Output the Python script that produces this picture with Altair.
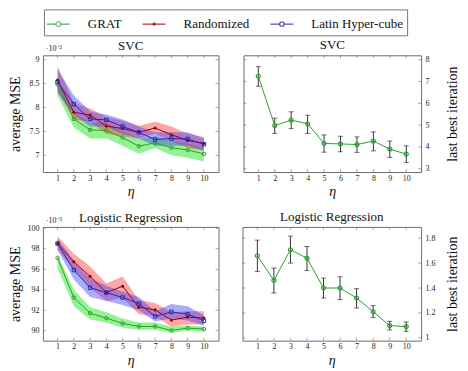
import altair as alt
import pandas as pd

# ---------------- data ----------------
eta = [1, 2, 3, 4, 5, 6, 7, 8, 9, 10]
series_names = ["GRAT", "Randomized", "Latin Hyper-cube"]

# SVC average MSE (x 1e-2)
svc_grat_mean = [8.48, 7.76, 7.53, 7.52, 7.37, 7.19, 7.26, 7.16, 7.11, 7.03]
svc_grat_lo = [8.25, 7.58, 7.35, 7.35, 7.20, 7.03, 7.15, 7.00, 6.95, 6.87]
svc_grat_hi = [8.55, 7.90, 7.68, 7.68, 7.50, 7.35, 7.40, 7.30, 7.25, 7.15]
svc_rand_mean = [8.57, 7.90, 7.84, 7.61, 7.56, 7.48, 7.57, 7.43, 7.31, 7.25]
svc_rand_lo = [8.35, 7.75, 7.70, 7.45, 7.40, 7.35, 7.45, 7.30, 7.15, 7.10]
svc_rand_hi = [8.86, 8.10, 7.98, 7.80, 7.72, 7.62, 7.70, 7.60, 7.45, 7.38]
svc_lhs_mean = [8.53, 8.07, 7.76, 7.74, 7.60, 7.48, 7.33, 7.35, 7.34, 7.23]
svc_lhs_lo = [8.30, 7.85, 7.60, 7.60, 7.45, 7.35, 7.20, 7.20, 7.20, 7.10]
svc_lhs_hi = [8.80, 8.25, 7.92, 7.85, 7.75, 7.60, 7.48, 7.48, 7.48, 7.35]

# Logistic Regression average MSE (x 1e-3)
lr_grat_mean = [97.12, 93.24, 91.71, 91.23, 90.71, 90.42, 90.42, 90.03, 90.26, 90.16]
lr_grat_lo = [96.1, 92.4, 91.1, 90.8, 90.3, 90.1, 90.1, 89.8, 90.0, 89.9]
lr_grat_hi = [97.4, 94.0, 92.3, 91.8, 91.2, 90.8, 90.8, 90.4, 90.5, 90.4]
lr_rand_mean = [98.51, 96.73, 95.31, 93.72, 94.34, 92.30, 92.04, 91.04, 91.33, 91.23]
lr_rand_lo = [97.9, 96.0, 94.2, 92.9, 93.2, 91.6, 91.4, 90.4, 90.6, 90.6]
lr_rand_hi = [99.2, 97.5, 96.3, 94.6, 95.3, 93.0, 92.7, 91.8, 91.9, 91.9]
lr_lhs_mean = [98.51, 95.92, 94.20, 93.72, 93.24, 92.65, 91.39, 91.84, 91.62, 90.97]
lr_lhs_lo = [97.9, 95.0, 93.3, 92.9, 92.5, 92.0, 90.9, 91.2, 91.0, 90.5]
lr_lhs_hi = [99.0, 96.8, 95.1, 94.4, 93.8, 93.3, 91.9, 92.6, 92.4, 91.5]

# last best iteration (GRAT)
svc_iter_mean = [7.24, 4.98, 5.23, 5.06, 4.16, 4.14, 4.11, 4.27, 3.90, 3.67]
svc_iter_lo = [6.78, 4.62, 4.84, 4.62, 3.76, 3.78, 3.75, 3.82, 3.52, 3.29]
svc_iter_hi = [7.68, 5.32, 5.61, 5.45, 4.55, 4.49, 4.46, 4.69, 4.27, 4.05]
lr_iter_mean = [1.659, 1.461, 1.707, 1.640, 1.400, 1.400, 1.320, 1.210, 1.099, 1.091]
lr_iter_lo = [1.533, 1.360, 1.600, 1.541, 1.320, 1.307, 1.240, 1.163, 1.064, 1.053]
lr_iter_hi = [1.784, 1.560, 1.816, 1.733, 1.480, 1.490, 1.395, 1.259, 1.133, 1.128]

svc_mse_ticks = [7, 7.5, 8, 8.5, 9]
lr_mse_ticks = [90, 92, 94, 96, 98, 100]
svc_iter_ticks = [3, 4, 5, 6, 7, 8]
lr_iter_ticks = [1.0, 1.2, 1.4, 1.6, 1.8]

# ---------------- style ----------------
FONT = "Liberation Serif"
line_colors = ["#2f9e2f", "#9e0000", "#2a2aa8"]
fill_colors = ["#00e000", "#ff2a2a", "#3a3aff"]
marker_shapes = ["circle", "circle", "square"]
marker_filled = [False, True, False]
legend_paths = [
    "M-1.15,0H-0.25M0.25,0H1.15M-0.25,0A0.25,0.25 0 1,0 0.25,0A0.25,0.25 0 1,0 -0.25,0",
    "M-1.15,0H1.15M-0.12,0A0.12,0.12 0 1,0 0.12,0A0.12,0.12 0 1,0 -0.12,0",
    "M-1.15,0H-0.2M0.2,0H1.15M-0.2,-0.2H0.2V0.2H-0.2Z",
]
FRAME = "#6e6e6e"
TICKLEN = 3
XDOM = [0.1, 10.9]


def xaxis():
    return alt.Axis(values=eta, title="η", ticks=False, domain=False, grid=False,
                    labelPadding=2, titlePadding=3, titleFontStyle="italic",
                    titleFontSize=14, labelFontSize=8, labelOverlap=False, labelFlush=False)


def xenc():
    return alt.X("eta:Q", scale=alt.Scale(domain=XDOM, nice=False, zero=False), axis=xaxis())


def frame_ticks(W, H, yscale, yaxis, ytick_vals):
    xt = pd.DataFrame({"eta": eta})
    yt = pd.DataFrame({"v": ytick_vals})
    X = xenc()
    Y = alt.Y("v:Q", scale=yscale, axis=yaxis)
    base_x = alt.Chart(xt).mark_rule(color=FRAME, strokeWidth=0.6)
    base_y = alt.Chart(yt).mark_rule(color=FRAME, strokeWidth=0.6)
    return [
        base_x.encode(x=X, y=alt.value(H), y2=alt.value(H - TICKLEN)),
        base_x.encode(x=X, y=alt.value(0), y2=alt.value(TICKLEN)),
        base_y.encode(y=Y, x=alt.value(0), x2=alt.value(TICKLEN)),
        base_y.encode(y=Y, x=alt.value(W), x2=alt.value(W - TICKLEN)),
    ]


def panel_title(t, offset):
    return alt.TitleParams(t, font=FONT, fontSize=13, fontWeight="normal", offset=offset,
                           color="#111", frame="group")


def mse_panel(title, exp_text, means, los, his, ydom, yticks, W, H, with_legend):
    yscale = alt.Scale(domain=ydom, nice=False, zero=False)
    X = xenc()
    yaxis = alt.Axis(values=yticks, format="~r", title="average MSE", ticks=False,
                     domain=False, grid=False, labelPadding=4, titleX=-20,
                     titleFontSize=14, labelFontSize=8, labelOverlap=False, labelFlush=False)
    layers = []
    dfs = []
    for i, name in enumerate(series_names):
        dfs.append(pd.DataFrame({"eta": eta, "series": name, "mean": means[i],
                                 "lo": los[i], "hi": his[i]}))
    for i in range(3):
        layers.append(alt.Chart(dfs[i]).mark_area(color=fill_colors[i], opacity=0.42).encode(
            x=X, y=alt.Y("lo:Q", scale=yscale, axis=yaxis), y2="hi:Q"))
    for i in range(3):
        layers.append(alt.Chart(dfs[i]).mark_line(color=line_colors[i], strokeWidth=1).encode(
            x=X, y=alt.Y("mean:Q", scale=yscale, axis=yaxis)))
        layers.append(alt.Chart(dfs[i]).mark_point(
            shape=marker_shapes[i], filled=marker_filled[i], color=line_colors[i],
            size=10 if marker_filled[i] else 12, strokeWidth=1, opacity=1).encode(
            x=X, y=alt.Y("mean:Q", scale=yscale, axis=yaxis)))
    layers += frame_ticks(W, H, yscale, yaxis, yticks)
    exp_df = pd.DataFrame({"t": [exp_text]})
    layers.append(alt.Chart(exp_df).mark_text(align="left", baseline="bottom", fontSize=8,
                                              font=FONT, color="#222").encode(
        text="t:N", x=alt.value(3), y=alt.value(-2)))
    if with_legend:
        all_df = pd.concat(dfs)
        leg = alt.Legend(title=None, orient="none", legendX=1, legendY=-46,
                         direction="horizontal", symbolSize=400, symbolStrokeWidth=1,
                         symbolOpacity=1, labelFont=FONT, labelFontSize=13,
                         labelColor="#111", strokeColor="#777", padding=4,
                         labelOffset=19, columnPadding=19, symbolFillColor="white")
        layers.append(alt.Chart(all_df).mark_point(opacity=0, filled=False, size=400).encode(
            x=X, y=alt.Y("mean:Q", scale=yscale, axis=yaxis),
            stroke=alt.Stroke("series:N", scale=alt.Scale(domain=series_names, range=line_colors),
                              legend=leg),
            shape=alt.Shape("series:N", scale=alt.Scale(domain=series_names, range=legend_paths),
                            legend=leg)))
    # the exponent label sits above the frame, so pull the title back down over it
    return alt.layer(*layers).properties(width=W, height=H, title=panel_title(title, -8))


def iter_panel(title, mean, lo, hi, ydom, yticks, W, H):
    yscale = alt.Scale(domain=ydom, nice=False, zero=False)
    X = xenc()
    yaxis = alt.Axis(values=yticks, format="~r", title="last best iteration", orient="right",
                     titleAngle=270, titleBaseline="bottom", titleX=38, ticks=False,
                     domain=False, grid=False, labelPadding=4, titleFontSize=14,
                     labelFontSize=8, labelOverlap=False, labelFlush=False)
    df = pd.DataFrame({"eta": eta, "mean": mean, "lo": lo, "hi": hi})
    base = alt.Chart(df)
    Ym = alt.Y("mean:Q", scale=yscale, axis=yaxis)
    layers = [
        base.mark_rule(color="#333", strokeWidth=1).encode(
            x=X, y=alt.Y("lo:Q", scale=yscale, axis=yaxis), y2="hi:Q"),
        base.mark_tick(color="#333", orient="horizontal", size=5, thickness=1).encode(
            x=X, y=alt.Y("lo:Q", scale=yscale, axis=yaxis)),
        base.mark_tick(color="#333", orient="horizontal", size=5, thickness=1).encode(
            x=X, y=alt.Y("hi:Q", scale=yscale, axis=yaxis)),
        base.mark_line(color=line_colors[0], strokeWidth=1).encode(x=X, y=Ym),
        base.mark_point(shape="circle", filled=False, color=line_colors[0], size=16,
                        strokeWidth=1.2, opacity=1).encode(x=X, y=Ym),
    ]
    layers += frame_ticks(W, H, yscale, yaxis, yticks)
    return alt.layer(*layers).properties(width=W, height=H, title=panel_title(title, 3))


tl = mse_panel("SVC", "·10⁻²", [svc_grat_mean, svc_rand_mean, svc_lhs_mean],
               [svc_grat_lo, svc_rand_lo, svc_lhs_lo], [svc_grat_hi, svc_rand_hi, svc_lhs_hi],
               [6.65, 9.09], svc_mse_ticks, 176, 117, True)
tr = iter_panel("SVC", svc_iter_mean, svc_iter_lo, svc_iter_hi, [2.85, 8.2],
                svc_iter_ticks, 178, 117)
bl = mse_panel("Logistic Regression", "·10⁻³", [lr_grat_mean, lr_rand_mean, lr_lhs_mean],
               [lr_grat_lo, lr_rand_lo, lr_lhs_lo], [lr_grat_hi, lr_rand_hi, lr_lhs_hi],
               [89.03, 100.13], lr_mse_ticks, 176, 114, False)
br = iter_panel("Logistic Regression", lr_iter_mean, lr_iter_lo, lr_iter_hi, [0.978, 1.89],
                lr_iter_ticks, 179, 114)

chart = alt.vconcat(
    alt.hconcat(tl, tr, spacing=23),
    alt.hconcat(bl, br, spacing=22),
    spacing=10,
).properties(padding=0).configure_view(
    stroke=FRAME, strokeWidth=1
).configure_axis(
    labelFont=FONT, titleFont=FONT, labelColor="#222", titleColor="#111", titleFontWeight="normal"
)

chart.save("out.html", embed_options={"renderer": "svg", "actions": False})
